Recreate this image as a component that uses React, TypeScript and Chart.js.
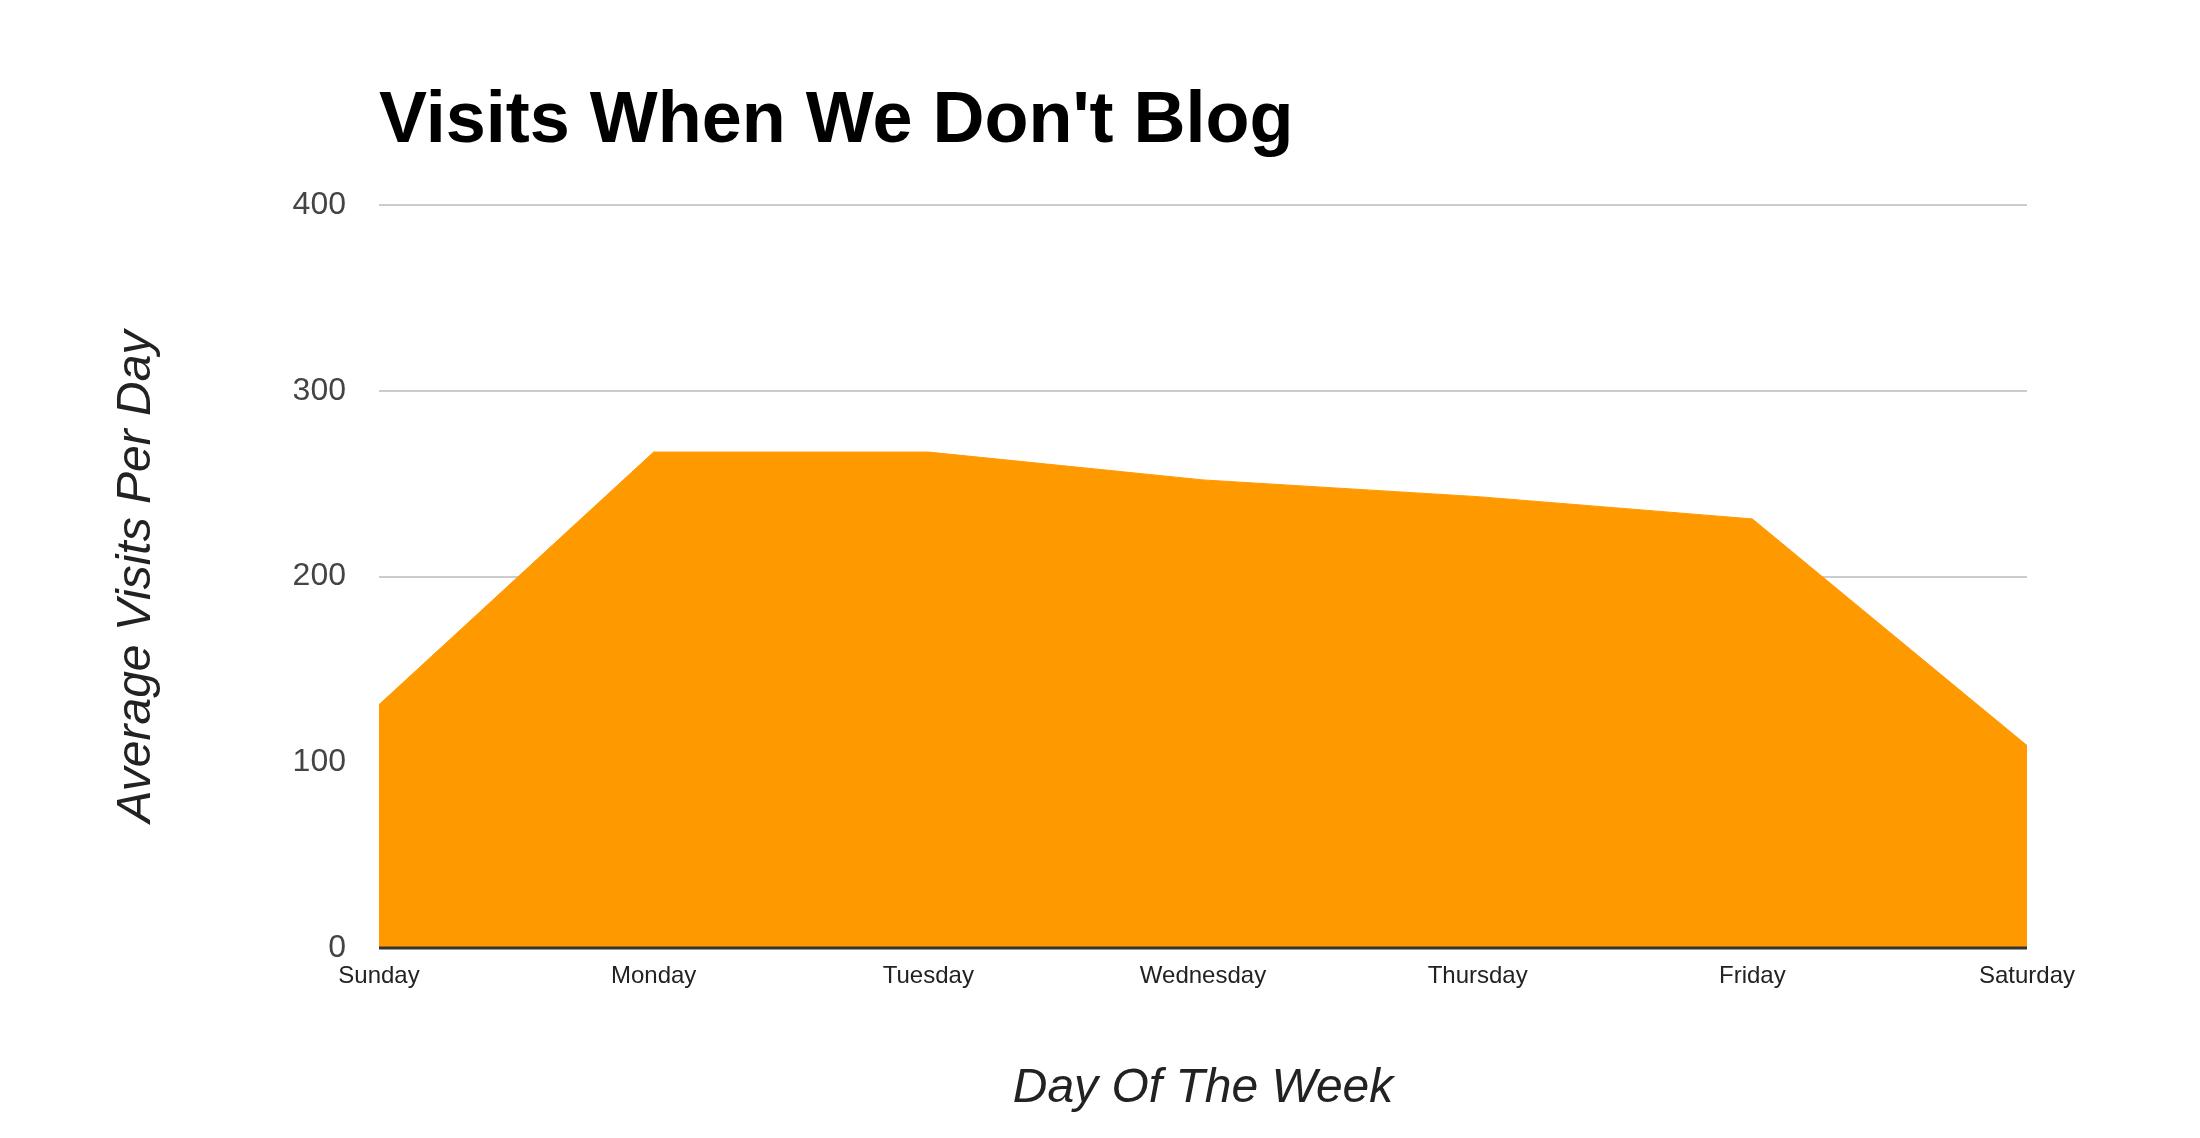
import React, { useEffect, useRef } from "react";
import { Chart, registerables } from "chart.js";

Chart.register(...registerables);

const days = ["Sunday", "Monday", "Tuesday", "Wednesday", "Thursday", "Friday", "Saturday"];
const visits = [131, 267, 267, 252, 243, 231, 109];
const yTicks = [0, 100, 200, 300, 400];
const chartTitle = "Visits When We Don't Blog";
const xTitle = "Day Of The Week";
const yTitle = "Average Visits Per Day";

const FONT = "'Liberation Sans', Arial, Helvetica, sans-serif";

const textPlugin = {
  id: "customText",
  afterDatasetsDraw(chart: any) {
    const { ctx, chartArea, scales } = chart;
    const y0 = scales.y.getPixelForValue(0);
    ctx.save();
    ctx.strokeStyle = "#333333";
    ctx.lineWidth = 3;
    ctx.beginPath();
    ctx.moveTo(chartArea.left, y0);
    ctx.lineTo(chartArea.right, y0);
    ctx.stroke();
    ctx.restore();
  },
  afterDraw(chart: any) {
    const { ctx, chartArea } = chart;
    ctx.save();
    ctx.fillStyle = "#000000";
    ctx.font = `bold 72px ${FONT}`;
    ctx.textAlign = "left";
    ctx.textBaseline = "alphabetic";
    ctx.fillText(chartTitle, chartArea.left, 142);
    ctx.fillStyle = "#222222";
    ctx.font = `italic 48px ${FONT}`;
    ctx.textAlign = "center";
    ctx.fillText(xTitle, (chartArea.left + chartArea.right) / 2, 1102);
    ctx.translate(150, (chartArea.top + chartArea.bottom) / 2);
    ctx.rotate(-Math.PI / 2);
    ctx.textAlign = "center";
    ctx.textBaseline = "alphabetic";
    ctx.fillText(yTitle, 0, 0);
    ctx.restore();
  },
};

export default function App() {
  const ref = useRef<HTMLCanvasElement | null>(null);

  useEffect(() => {
    document.body.style.margin = "0";
    document.body.style.overflow = "hidden";
    const canvas = ref.current;
    if (!canvas) return;
    const chart = new Chart(canvas, {
      type: "line",
      data: {
        labels: days,
        datasets: [
          {
            data: visits,
            fill: "origin",
            backgroundColor: "#FF9900",
            borderColor: "#FF9900",
            borderWidth: 1,
            pointRadius: 0,
            tension: 0,
          },
        ],
      },
      plugins: [textPlugin],
      options: {
        animation: false,
        responsive: false,
        maintainAspectRatio: false,
        layout: {
          padding: { left: 279, top: 205, right: 173, bottom: 130 },
        },
        plugins: {
          legend: { display: false },
          title: { display: false },
          tooltip: { enabled: false },
        },
        scales: {
          x: {
            type: "category",
            offset: false,
            grid: { display: false, drawTicks: false },
            border: { display: false },
            afterFit: (scale: any) => {
              scale.height = 60;
            },
            ticks: {
              padding: 14,
              maxRotation: 0,
              autoSkip: false,
              color: "#222222",
              font: { family: FONT, size: 24 },
            },
          },
          y: {
            min: yTicks[0],
            max: yTicks[yTicks.length - 1],
            afterFit: (scale: any) => {
              scale.width = 100;
            },
            afterBuildTicks: (scale: any) => {
              scale.ticks = yTicks.map((v) => ({ value: v }));
            },
            grid: { color: "#cccccc", lineWidth: 2, drawTicks: false },
            border: { display: false },
            ticks: {
              padding: 33,
              color: "#444444",
              font: { family: FONT, size: 32 },
            },
          },
        },
      },
    });
    return () => chart.destroy();
  }, []);

  return (
    <div style={{ position: "absolute", left: 0, top: 0, width: 2200, height: 1138 }}>
      <canvas ref={ref} width={2200} height={1138} style={{ width: 2200, height: 1138, display: "block" }} />
    </div>
  );
}
